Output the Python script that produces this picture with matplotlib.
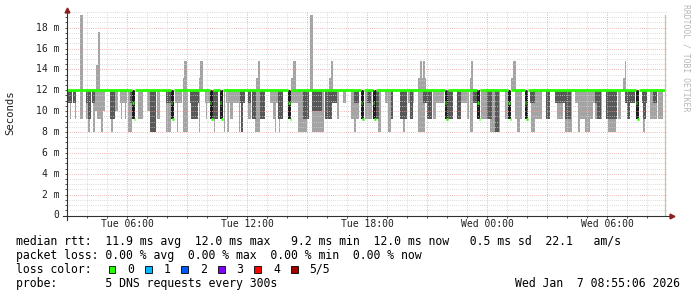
import matplotlib
matplotlib.use('Agg')
import matplotlib.pyplot as plt
from matplotlib.patches import Rectangle

W, H = 697, 297
MONO = 'DejaVu Sans Mono'

# x axis: hours after Tue 03:00, probe step is 300 s
x_range = (0, 30)
now_hour = 29.92
step_h = 5 / 60
tick_hours = [3, 9, 15, 21, 27]
tick_labels = ['Tue 06:00', 'Tue 12:00', 'Tue 18:00', 'Wed 00:00', 'Wed 06:00']

# y axis in ms
y_max = 19.5
y_ticks = [0, 2, 4, 6, 8, 10, 12, 14, 16, 18]
y_tick_labels = ['0', '2 m', '4 m', '6 m', '8 m', '10 m', '12 m', '14 m', '16 m', '18 m']

median_rtt = 12.0
# start of each median dip (two probes: 10.8 ms then 9.2 ms)
dip_hours = [3.25, 5.18, 7.13, 7.63, 11.05, 14.68, 15.28, 18.88, 20.5, 22.05, 22.88, 28.43]
dip_values = [10.8, 9.2]

# outer smoke band (min..max ping), (start h, end h, low ms, high ms)
light_smoke = [
    (0.02, 0.07, 9.2, 12), (0.17, 0.22, 9.2, 12), (0.38, 0.43, 9.2, 12),
    (0.65, 0.78, 9.2, 12), (0.95, 1.03, 9.2, 12), (1.03, 1.15, 8.0, 12),
    (1.30, 1.40, 8.0, 12), (1.40, 1.90, 10.0, 12), (1.50, 1.80, 9.2, 12),
    (1.70, 1.78, 8.0, 12), (2.20, 2.30, 8.0, 12), (2.30, 2.57, 10.0, 12),
    (2.65, 3.00, 10.8, 12), (2.70, 2.75, 9.2, 12), (2.90, 2.95, 9.2, 12),
    (3.05, 3.25, 8.0, 12), (3.55, 3.80, 9.2, 12), (4.00, 4.15, 10.0, 12),
    (4.50, 4.65, 9.2, 12), (4.95, 5.18, 8.0, 12), (5.40, 5.75, 10.8, 12),
    (5.50, 5.55, 8.0, 12), (5.80, 6.05, 8.0, 12), (6.60, 6.65, 8.0, 12),
    (6.90, 7.13, 10.8, 12), (6.95, 7.00, 9.2, 12), (7.35, 7.40, 8.0, 12),
    (7.85, 7.90, 8.0, 12), (7.95, 8.65, 10.8, 12), (8.15, 8.30, 9.2, 12),
    (8.00, 8.10, 8.0, 12), (8.60, 8.65, 8.0, 12), (9.05, 9.20, 9.2, 12),
    (9.40, 9.65, 8.0, 12), (10.15, 10.55, 10.8, 12), (10.30, 10.40, 9.2, 12),
    (10.40, 10.45, 8.0, 12), (10.60, 10.65, 8.0, 12), (11.20, 11.60, 10.8, 12),
    (11.55, 12.00, 8.0, 12), (12.25, 12.85, 8.0, 12), (13.50, 13.60, 9.2, 12),
    (13.80, 13.95, 10.8, 12), (14.20, 14.60, 9.2, 12), (14.35, 14.45, 8.0, 12),
    (14.90, 15.25, 9.2, 12), (15.55, 15.70, 8.0, 12), (15.90, 16.25, 10.8, 12),
    (16.05, 16.20, 8.0, 12), (16.80, 16.90, 8.0, 12), (17.05, 17.35, 10.8, 12),
    (17.55, 17.90, 8.0, 12), (18.30, 18.45, 9.2, 12), (18.45, 18.85, 10.8, 12),
    (19.05, 19.25, 9.2, 12), (19.70, 20.00, 10.8, 12), (20.00, 20.10, 9.2, 12),
    (20.15, 20.30, 8.0, 12), (20.70, 20.90, 9.2, 12), (20.90, 21.10, 9.2, 12),
    (21.15, 21.40, 8.0, 12), (21.40, 21.65, 8.0, 12), (21.90, 22.05, 9.2, 12),
    (22.40, 22.75, 9.2, 12), (22.50, 22.65, 8.0, 12), (23.20, 23.40, 8.0, 12),
    (23.40, 23.75, 9.2, 12), (24.50, 24.80, 9.2, 12), (24.90, 25.25, 8.0, 12),
    (25.40, 26.50, 10.8, 12), (25.55, 26.30, 9.2, 12), (25.55, 25.65, 8.0, 12),
    (25.90, 26.15, 8.0, 12), (26.40, 26.75, 9.2, 12), (27.03, 27.45, 8.0, 12),
    (27.55, 27.70, 9.2, 12), (28.78, 28.90, 8.0, 12), (29.15, 29.50, 9.2, 12),
    (29.55, 29.80, 9.2, 12),
]

# slow pings above the median
spikes = [
    (0.65, 0.78, 12, 19.2), (1.45, 1.53, 12, 14.4), (1.53, 1.65, 12, 17.6),
    (5.78, 5.87, 12, 13.2), (5.87, 5.98, 12, 14.8), (6.62, 6.66, 12, 13.2),
    (6.66, 6.78, 12, 14.8), (9.45, 9.53, 12, 13.2), (9.53, 9.65, 12, 14.8),
    (11.20, 11.32, 12, 13.2), (11.32, 11.43, 12, 14.8), (12.15, 12.32, 12, 19.2),
    (13.12, 13.18, 12, 13.2), (13.18, 13.28, 12, 14.8), (17.53, 17.93, 12, 13.2),
    (17.65, 17.73, 12, 14.8), (17.82, 17.90, 12, 14.8), (20.15, 20.20, 12, 13.2),
    (20.20, 20.32, 12, 14.8), (22.20, 22.32, 12, 13.2), (22.32, 22.43, 12, 14.8),
    (27.82, 27.90, 12, 13.2), (27.90, 27.97, 12, 14.8),
]

# inner smoke band (2nd..4th ping)
dark_smoke = [
    (0.00, 0.23, 10.8, 12), (0.28, 0.45, 10.8, 12), (0.95, 1.05, 10.8, 12),
    (1.05, 1.18, 9.2, 12), (1.23, 1.40, 10.8, 12), (2.15, 2.40, 9.2, 12),
    (3.17, 3.25, 10.8, 12), (4.15, 4.45, 8.0, 12), (4.93, 5.18, 10.8, 12),
    (6.15, 6.60, 10.8, 12), (6.20, 6.55, 9.2, 12), (7.30, 7.55, 9.2, 12),
    (8.65, 8.90, 10.8, 12), (8.70, 8.80, 8.0, 12), (9.05, 9.20, 10.8, 12),
    (9.25, 9.45, 9.2, 12), (9.65, 9.90, 9.2, 12), (10.55, 10.80, 9.2, 12),
    (11.80, 12.10, 9.2, 12), (12.25, 12.75, 10.0, 12), (12.90, 13.25, 9.2, 12),
    (13.25, 13.50, 10.8, 12), (14.35, 14.60, 10.8, 12), (15.00, 15.20, 10.8, 12),
    (15.40, 15.60, 9.2, 12), (16.20, 16.30, 9.2, 12), (16.65, 17.00, 9.2, 12),
    (17.15, 17.30, 9.2, 12), (17.80, 18.00, 10.8, 12), (18.00, 18.25, 9.2, 12),
    (19.00, 19.30, 9.2, 12), (19.50, 19.70, 9.2, 12), (20.30, 20.50, 10.8, 12),
    (21.00, 21.25, 9.2, 12), (21.40, 21.60, 8.0, 12), (23.15, 23.40, 10.8, 12),
    (23.95, 24.15, 9.2, 12), (24.40, 25.05, 10.8, 12), (24.90, 25.20, 9.2, 12),
    (26.40, 26.65, 10.8, 12), (26.50, 26.70, 9.2, 12), (26.95, 27.40, 9.2, 12),
    (27.25, 27.50, 9.2, 12), (27.90, 28.40, 10.8, 12), (27.98, 28.15, 9.2, 12),
    (28.75, 29.00, 10.8, 12), (28.80, 28.95, 9.2, 12), (29.28, 29.48, 10.8, 12),
]

stats_rtt = 'median rtt:  11.9 ms avg  12.0 ms max   9.2 ms min  12.0 ms now   0.5 ms sd  22.1   am/s'
stats_loss = 'packet loss: 0.00 % avg  0.00 % max  0.00 % min  0.00 % now'
probe_text = 'probe:       5 DNS requests every 300s'
stamp_text = 'Wed Jan  7 08:55:06 2026'
loss_labels = ['0', '1', '2', '3', '4', '5/5']
loss_colors = ['#26ff00', '#00b8ff', '#0059ff', '#7e00ff', '#ff0000', '#a10000']

LIGHT, DARK, DIP = '#a4a4a4', '#585858', '#1e1e1e'


def draw_bands(ax, bands, color, z):
    for h0, h1, lo, hi in bands:
        ax.bar(h0, hi - lo, width=h1 - h0, bottom=lo, align='edge',
               color=color, linewidth=0, zorder=z)


fig = plt.figure(figsize=(W / 100, H / 100), dpi=100)
fig.patch.set_facecolor('white')
ax = fig.add_axes([67 / W, (H - 215.5) / H, 600 / W, 203.5 / H])
ax.set_xlim(*x_range)
ax.set_ylim(0, y_max)
for s in ax.spines.values():
    s.set_visible(False)

# smoke
draw_bands(ax, light_smoke, LIGHT, 2)
draw_bands(ax, spikes, LIGHT, 2)
draw_bands(ax, dark_smoke, DARK, 3)
for t in dip_hours:
    ax.bar(t, median_rtt - dip_values[-1], width=2 * step_h, bottom=dip_values[-1],
           align='edge', color=DIP, linewidth=0, zorder=4)

# median line, broken where it dips
green = loss_colors[0]
starts = [x_range[0]] + [t + 2 * step_h for t in dip_hours]
ends = dip_hours + [now_hour]
ax.hlines([median_rtt] * len(starts), starts, ends, colors=green, lw=2.0, zorder=6)
for t in dip_hours:
    for k, v in enumerate(dip_values):
        ax.hlines(v, t + k * step_h, t + (k + 1) * step_h, colors=green, lw=2.0, zorder=6)

# grid on top, rrdtool style
dots = (0, (0.72, 1.44))
for i in range(1, int(y_max * 2) + 1):
    v = i / 2
    major = v % 2 == 0
    ax.axhline(v, color='#e8a0a0' if major else '#d0d0d0', lw=0.72, ls=dots, zorder=5)
for hh in range(1, 30):
    major = hh % 3 == 0
    ax.axvline(hh, color='#e8a0a0' if major else '#d0d0d0', lw=0.72, ls=dots, zorder=5)
ax.axvline(now_hour, color='#c9c29e', lw=0.9, ymin=0, ymax=0.985, zorder=7)

# axes with arrows
ax.plot([0, 0], [-0.02, 1.0], transform=ax.transAxes, color='#303030', lw=0.8,
        clip_on=False, zorder=8)
ax.plot([-0.007, 1.005], [0, 0], transform=ax.transAxes, color='#303030', lw=0.8,
        clip_on=False, zorder=8)
ax.plot([0], [1.01], marker='^', ms=3.5, color='#8f1f1f', transform=ax.transAxes,
        clip_on=False, zorder=9)
ax.plot([1.008], [0], marker='>', ms=3.5, color='#8f1f1f', transform=ax.transAxes,
        clip_on=False, zorder=9)

ax.set_xticks(range(1, 30))
ax.set_yticks([i / 2 for i in range(0, int(y_max * 2))])
ax.tick_params(axis='both', length=1.5, width=0.6, color='#303030',
               labelleft=False, labelbottom=False)

# tick labels
ytr = ax.get_yaxis_transform()
for v, lab in zip(y_ticks, y_tick_labels):
    ax.text(-0.0125, v, lab, transform=ytr, ha='right', va='center',
            family=MONO, fontsize=7, color='#202020')
xtr = ax.get_xaxis_transform()
for hh, lab in zip(tick_hours, tick_labels):
    ax.text(hh, -0.042, lab, transform=xtr, ha='center', va='center',
            family=MONO, fontsize=7, color='#202020')

fig.text(10 / W, 1 - 113 / H, 'Seconds', rotation=90, ha='center', va='center',
         family=MONO, fontsize=7.7, color='#202020')
fig.text(686 / W, 1 - 4 / H, 'RRDTOOL / TOBI OETIKER', rotation=270, ha='center',
         va='top', family=MONO, fontsize=5.9, color='#b8b8b8')

# legend
fs = 8.3
fig.text(16 / W, 1 - 241 / H, stats_rtt, ha='left', va='center', family=MONO,
         fontsize=fs, color='black')
fig.text(16 / W, 1 - 255 / H, stats_loss, ha='left', va='center', family=MONO,
         fontsize=fs, color='black')
fig.text(16 / W, 1 - 269.3 / H, 'loss color:', ha='left', va='center', family=MONO,
         fontsize=fs, color='black')
label_x = [127, 163.5, 200, 236.5, 273, 309.5]
for lx, lab, c in zip(label_x, loss_labels, loss_colors):
    fig.add_artist(Rectangle(((lx - 18.5) / W, 1 - 272.7 / H), 6.7 / W, 7 / H,
                             transform=fig.transFigure, facecolor=c,
                             edgecolor='black', lw=0.6))
    fig.text(lx / W, 1 - 269.3 / H, lab, ha='left', va='center', family=MONO,
             fontsize=fs, color='black')
fig.text(16 / W, 1 - 283.3 / H, probe_text, ha='left', va='center', family=MONO,
         fontsize=fs, color='black')
fig.text(680 / W, 1 - 283.3 / H, stamp_text, ha='right', va='center', family=MONO,
         fontsize=fs, color='black')

fig.savefig('out.png', dpi=100, facecolor='white')
